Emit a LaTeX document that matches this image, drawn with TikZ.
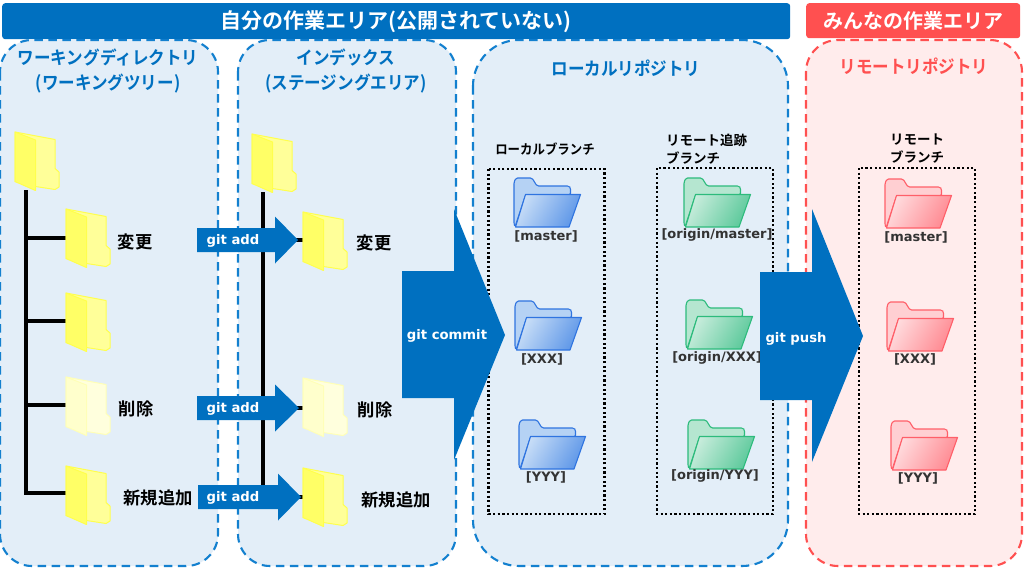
\documentclass[tikz,border=0pt]{standalone}
\usepackage{fontspec}
\setmainfont{Noto Sans CJK JP}[BoldFont={* Bold}]
\newfontfamily\cjkn{Noto Sans CJK JP}[FakeStretch=0.92,BoldFont={* Bold}]
\newfontfamily\latinf{DejaVu Sans}
\usetikzlibrary{shapes.geometric}
\definecolor{hdrblue}{HTML}{0070C0}
\definecolor{dashblue}{HTML}{1380CF}
\definecolor{panelblue}{HTML}{E3EEF8}
\definecolor{hdrred}{HTML}{FF5050}
\definecolor{panelred}{HTML}{FFECEC}
\definecolor{yfront}{HTML}{FFFF66}
\definecolor{yback}{HTML}{FFFF99}
\definecolor{yline}{HTML}{FFFF4D}
\definecolor{pfront}{HTML}{FFFFCC}
\definecolor{pback}{HTML}{FFFFDD}
\definecolor{pline}{HTML}{FFFFB8}
\definecolor{bline}{HTML}{2F74E0}
\definecolor{blight}{HTML}{B5D2F4}
\definecolor{bdark}{HTML}{5E97E8}
\definecolor{gline}{HTML}{2DBB7C}
\definecolor{glight}{HTML}{B5E6D0}
\definecolor{gdark}{HTML}{5CC99B}
\definecolor{rline}{HTML}{FF5F69}
\definecolor{rlight}{HTML}{FFCFD2}
\definecolor{rdark}{HTML}{FF8A92}
\tikzset{
  panel/.style={draw=dashblue,fill=panelblue,line width=2.1pt,dash pattern=on 8.5pt off 5.5pt,rounded corners=#1},
  panel/.default=32pt,
  redpanel/.style={panel=32pt,draw=hdrred,fill=panelred},
  hdr/.style={fill=#1,rounded corners=3pt,inner sep=0pt,text=white,font=\bfseries\fontsize{21}{24}\selectfont},
  paneltitle/.style={font=\cjkn\bfseries\fontsize{18}{25}\selectfont,align=center,inner sep=0pt},
  ptitleblue/.style={paneltitle,text=hdrblue},
  ptitlered/.style={paneltitle,text=hdrred},
  sub/.style={font=\bfseries\fontsize{13.5}{18}\selectfont,align=left,inner sep=0pt},
  lbl/.style={font=\bfseries\fontsize{17.3}{20}\selectfont,inner sep=0pt},
  branch/.style={font=\latinf\bfseries\fontsize{13}{16}\selectfont,inner sep=0pt,text=black!80},
  dotbox/.style={draw=black,line width=2.2pt,dash pattern=on 2.2pt off 2.4pt,fill=none},
  tree/.style={draw=black,line width=4.5pt},
  bigarrow/.style={fill=hdrblue,draw=none},
  arrowtext/.style={text=white,font=\latinf\bfseries\fontsize{13.2}{16}\selectfont,inner sep=0pt},
}
\newcommand{\yfolder}[5]{%
  \begin{scope}[shift={(#1,#2)}]
    \filldraw[fill=#4,draw=#5,line width=1pt,line join=round] (0,0)--(40,7.5)--(40,36.5)--(44,40)--(44,55)--(40,57.5)--(20.5,54.5)--(0,49.5)--cycle;
    \filldraw[fill=#3,draw=#5,line width=1pt,line join=round] (0,0)--(20.5,8)--(20.5,58.5)--(0,49.5)--cycle;
  \end{scope}}
\newcommand{\ofolder}[5]{%
  \begin{scope}[shift={(#1,#2)}]
    \filldraw[fill=#4,draw=#5,line width=1.1pt,line join=round,rounded corners=1.5pt]
      (1,49)--(0,46)--(0,4)--(2,0)--(18,0)--(23,8)--(55,8)--(56.5,10)--(56.5,17)--(11.5,17)--cycle;
    \path[left color=#4!75!white,right color=#3,shading angle=60,draw=#5,line width=1.1pt,line join=round]
      (11.5,16.5)--(66.5,16.5)--(55,49)--(1.5,49)--cycle;
  \end{scope}}
\newcommand{\bluearrow}[4]{%
  \fill[bigarrow] (#1,#3-12)--(#2,#3-12)--(#2,#3-23.5)--(#4,#3)--(#2,#3+23.5)--(#2,#3+12)--(#1,#3+12)--cycle;}
\begin{document}
\begin{tikzpicture}[x=1pt,y=-1pt]
\useasboundingbox (0,0) rectangle (1024,568);
\fill[white] (0,0) rectangle (1024,568);
% panels
\path[panel] (0,40) rectangle (218,566);
\path[panel] (238,40) rectangle (456,566);
\path[panel=46pt] (473,40) rectangle (788,566);
\path[redpanel] (806,40) rectangle (1022,566);
% headers
\node[hdr=hdrblue,minimum width=788pt,minimum height=36pt,anchor=north west] (h1) at (2,3) {自分の作業エリア(公開されていない)};
\node[hdr=hdrred,minimum width=214pt,minimum height=35pt,anchor=north west,font=\bfseries\fontsize{20}{22}\selectfont] (h2) at (806,3) {みんなの作業エリア};
% titles
\node[ptitleblue] (t1) at (108,71) {ワーキングディレクトリ\\(ワーキングツリー)};
\node[ptitleblue] (t2) at (346,71) {インデックス\\(ステージングエリア)};
\node[ptitleblue] (t3) at (626,68) {ローカルリポジトリ};
\node[ptitlered] (t4) at (914,66) {リモートリポジトリ};
% tree 1
\coordinate (a0) at (26,190); \coordinate (a4) at (26,493);
\coordinate (a1) at (26,238); \coordinate (a2) at (26,321); \coordinate (a3) at (26,405);
\coordinate (f1) at (68,238); \coordinate (f2) at (68,321); \coordinate (f3) at (68,405); \coordinate (f4) at (68,493);
\draw[tree] (a0) -- ([yshift=-2.2pt]a4);
\draw[tree] (a1) -- (f1); \draw[tree] (a2) -- (f2); \draw[tree] (a3) -- (f3); \draw[tree] (a4) -- (f4);
% tree 2
\coordinate (b0) at (263,192); \coordinate (b4) at (263,497);
\coordinate (b1) at (263,240); \coordinate (b3) at (263,408);
\coordinate (g1) at (305,240); \coordinate (g3) at (305,408); \coordinate (g4) at (305,497);
\draw[tree] (b0) -- (b4);
\draw[tree] (b1) -- (g1); \draw[tree] (b3) -- (g3); \draw[tree] (b4) -- (g4);
% yellow folders
\yfolder{15}{132}{yfront}{yback}{yline}
\yfolder{66}{209}{yfront}{yback}{yline}
\yfolder{66}{293}{yfront}{yback}{yline}
\yfolder{66}{377}{pfront}{pback}{pline}
\yfolder{66}{466}{yfront}{yback}{yline}
\yfolder{252}{134}{yfront}{yback}{yline}
\yfolder{303}{212}{yfront}{yback}{yline}
\yfolder{303}{378}{pfront}{pback}{pline}
\yfolder{303}{468}{yfront}{yback}{yline}
% labels
\node[lbl] (l1) at (135,242) {変更};
\node[lbl] (l2) at (136,409) {削除};
\node[lbl] (l3) at (158,498) {新規追加};
\node[lbl] (l4) at (374,243) {変更};
\node[lbl] (l5) at (375,410) {削除};
\node[lbl] (l6) at (396,500) {新規追加};
% git add arrows
\bluearrow{197}{275}{240}{298}
\bluearrow{197}{275}{408}{299}
\bluearrow{198}{278}{497}{301}
\node[arrowtext] (ga1) at (233,241) {git add};
\node[arrowtext] (ga2) at (233,409) {git add};
\node[arrowtext] (ga3) at (233,498) {git add};
% subtitles
\node[sub,font=\cjkn\bfseries\fontsize{13.5}{18}\selectfont] (s1) at (545,149) {ローカルブランチ};
\node[sub,anchor=west] (s2) at (666,149) {リモート追跡\\ブランチ};
\node[sub,anchor=west] (s3) at (890,149) {リモート\\ブランチ};
% dotted boxes
\draw[dotbox] (488.5,169) rectangle (604.5,514);
\draw[dotbox] (657,168) rectangle (773,514);
\draw[dotbox] (859,168) rectangle (975,514);
% open folders
\ofolder{514}{178}{bdark}{blight}{bline}
\ofolder{515}{301}{bdark}{blight}{bline}
\ofolder{519}{420}{bdark}{blight}{bline}
\ofolder{684}{178}{gdark}{glight}{gline}
\ofolder{686}{300}{gdark}{glight}{gline}
\ofolder{688}{420}{gdark}{glight}{gline}
\ofolder{885}{179}{rdark}{rlight}{rline}
\ofolder{887}{302}{rdark}{rlight}{rline}
\ofolder{891}{421}{rdark}{rlight}{rline}
% branch labels
\node[branch] (n1) at (546,236) {[master]};
\node[branch] (n2) at (542,359) {[XXX]};
\node[branch] (n3) at (546,477) {[YYY]};
\node[branch] (n4) at (717,235) {[origin/master]};
\node[branch] (n5) at (717,358) {[origin/XXX]};
\node[branch] (n6) at (715,476) {[origin/YYY]};
\node[branch] (n7) at (916,237) {[master]};
\node[branch] (n8) at (915,359) {[XXX]};
\node[branch] (n9) at (918,478) {[YYY]};
% big arrows
\fill[bigarrow] (402,271)--(454,271)--(454,209)--(505,335)--(454,460)--(454,398)--(402,398)--cycle;
\fill[bigarrow] (760,272)--(812,272)--(812,209)--(863,336)--(812,462)--(812,400)--(760,400)--cycle;
\node[arrowtext] (c1) at (447,336) {git commit};
\node[arrowtext] (c2) at (796,339) {git push};
\end{tikzpicture}
\end{document}
